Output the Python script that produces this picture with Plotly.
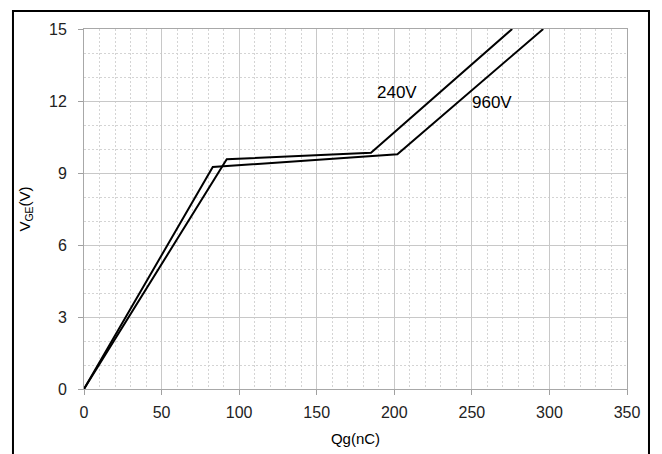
import plotly.graph_objects as go

# Data
qg_240 = [0, 92, 185, 276]
vge_240 = [0, 9.57, 9.84, 15]
qg_960 = [0, 83, 202, 296]
vge_960 = [0, 9.25, 9.78, 15]

x_ticks = [0, 50, 100, 150, 200, 250, 300, 350]
y_ticks = [0, 3, 6, 9, 12, 15]

labels = ["240V", "960V"]
label_pos = [(202, 12.35), (263, 11.95)]

fig = go.Figure()
fig.add_trace(go.Scatter(x=qg_240, y=vge_240, mode="lines",
                         line=dict(color="black", width=2), name="240V", showlegend=False))
fig.add_trace(go.Scatter(x=qg_960, y=vge_960, mode="lines",
                         line=dict(color="black", width=2), name="960V", showlegend=False))

for lab, (lx, ly) in zip(labels, label_pos):
    fig.add_annotation(x=lx, y=ly, text=lab, showarrow=False,
                       font=dict(family="Liberation Sans, Arial", size=17, color="black"))

# outer frame
fig.add_shape(type="rect", xref="paper", yref="paper",
              x0=-0.1308, x1=1.0405, y0=-0.25, y1=1.05,
              line=dict(color="black", width=2), layer="above")

tickfont = dict(family="Liberation Sans, Arial", size=16, color="#222222")
fig.update_layout(
    width=662, height=454,
    margin=dict(l=84, r=35, t=29, b=65),
    paper_bgcolor="white", plot_bgcolor="white",
    xaxis=dict(range=[0, 350], tickvals=x_ticks, ticks="outside", ticklen=5,
               tickcolor="#a0a0a0", showline=True, linecolor="#a8a8a8", mirror=True,
               showgrid=True, gridcolor="#c8c8c8", gridwidth=1, zeroline=False,
               tickfont=tickfont, ticklabelstandoff=4, automargin=False,
               minor=dict(dtick=10, showgrid=True, gridcolor="#d4d4d4", griddash="2px,2px", gridwidth=1),
               title=dict(text="Qg(nC)", font=dict(family="Liberation Sans, Arial", size=15, color="black"),
                          standoff=13)),
    yaxis=dict(range=[0, 15], tickvals=y_ticks, ticks="outside", ticklen=5,
               tickcolor="#a0a0a0", showline=True, linecolor="#a8a8a8", mirror=True,
               showgrid=True, gridcolor="#c8c8c8", gridwidth=1, zeroline=False,
               tickfont=tickfont, ticklabelstandoff=8, automargin=False,
               minor=dict(dtick=1, showgrid=True, gridcolor="#d4d4d4", griddash="2px,2px", gridwidth=1),
               title=dict(text="V<sub>GE</sub>(V)", font=dict(family="Liberation Sans, Arial", size=15, color="black"),
                          standoff=14)),
)

fig.write_html("out.html")
